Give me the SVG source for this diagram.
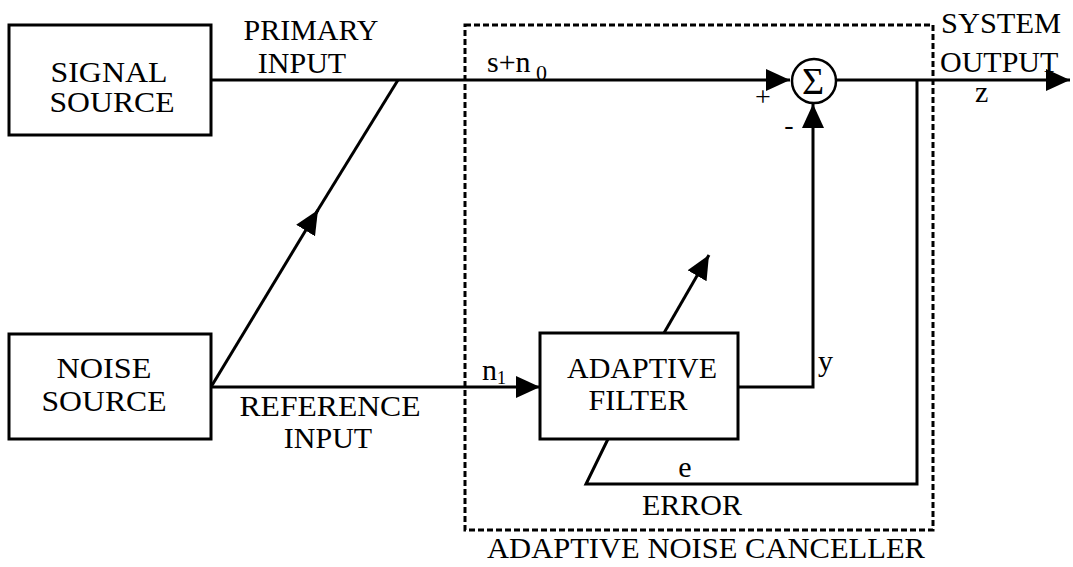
<svg xmlns="http://www.w3.org/2000/svg" width="1073" height="567" viewBox="0 0 1073 567" font-family="Liberation Serif, serif">
<style>
text{font-family:"Liberation Serif",serif;font-size:30px;fill:#000}
.box{fill:#fff;stroke:#000;stroke-width:3}
.ln{fill:none;stroke:#000;stroke-width:3}
.dash{fill:none;stroke:#000;stroke-width:3;stroke-dasharray:6 3}
.m{text-anchor:middle}
.sub{font-size:22px}
.sg{font-size:28px}
</style>
<defs>
<marker id="ah" markerUnits="userSpaceOnUse" markerWidth="26" markerHeight="24" refX="24" refY="11" orient="auto">
<path d="M0,0 L24,11 L0,22 z" fill="#000"/>
</marker>
</defs>
<g id="canceller-frame">
<rect class="dash" x="465" y="25" width="468" height="505"/>
<text x="487" y="558" textLength="438" lengthAdjust="spacingAndGlyphs">ADAPTIVE NOISE CANCELLER</text>
</g>
<g id="connectors">
<path class="ln" d="M211,80 H790" marker-end="url(#ah)"/>
<path class="ln" d="M836,80 H1070" marker-end="url(#ah)"/>
<path class="ln" d="M917,80 V484 H586 L608,439"/>
<path class="ln" d="M211,387 H540" marker-end="url(#ah)"/>
<path class="ln" d="M738,387 H813 V104" marker-end="url(#ah)"/>
<path class="ln" d="M664,333 L709,255" marker-end="url(#ah)"/>
<path class="ln" d="M211,387 L318,210" marker-end="url(#ah)"/>
<path class="ln" d="M316,213 L398,80"/>
<text x="311" y="40" class="m">PRIMARY</text>
<text x="302" y="73" class="m">INPUT</text>
<text x="330" y="416" class="m" textLength="181" lengthAdjust="spacingAndGlyphs">REFERENCE</text>
<text x="328" y="448" class="m">INPUT</text>
<text x="487" y="72">s+n</text>
<text x="536" y="80" class="sub">0</text>
<text x="482" y="380">n</text>
<text x="497" y="384" style="font-size:18px">1</text>
<text x="818" y="371">y</text>
<text x="685" y="477" class="m">e</text>
<text x="692" y="515" class="m">ERROR</text>
<text x="941" y="33" textLength="120" lengthAdjust="spacingAndGlyphs">SYSTEM</text>
<text x="940" y="72">OUTPUT</text>
<text x="975" y="102">z</text>
<text x="763" y="106" class="m sg">+</text>
<text x="789" y="134" class="m sg">-</text>
</g>
<g id="signal-source">
<rect class="box" x="9" y="25" width="202" height="110"/>
<text x="109" y="82" class="m" textLength="117" lengthAdjust="spacingAndGlyphs">SIGNAL</text>
<text x="112" y="112" class="m" textLength="125" lengthAdjust="spacingAndGlyphs">SOURCE</text>
</g>
<g id="noise-source">
<rect class="box" x="9" y="334" width="202" height="105"/>
<text x="104" y="378" class="m" textLength="95" lengthAdjust="spacingAndGlyphs">NOISE</text>
<text x="104" y="411" class="m" textLength="125" lengthAdjust="spacingAndGlyphs">SOURCE</text>
</g>
<g id="adaptive-filter">
<rect class="box" x="540" y="333" width="198" height="106"/>
<text x="642" y="378" class="m">ADAPTIVE</text>
<text x="638" y="410" class="m">FILTER</text>
</g>
<g id="summer">
<circle cx="814" cy="81" r="22" fill="#fff" stroke="#000" stroke-width="2.5"/>
<text x="813" y="94" class="m" style="font-size:38px">Σ</text>
</g>
</svg>
